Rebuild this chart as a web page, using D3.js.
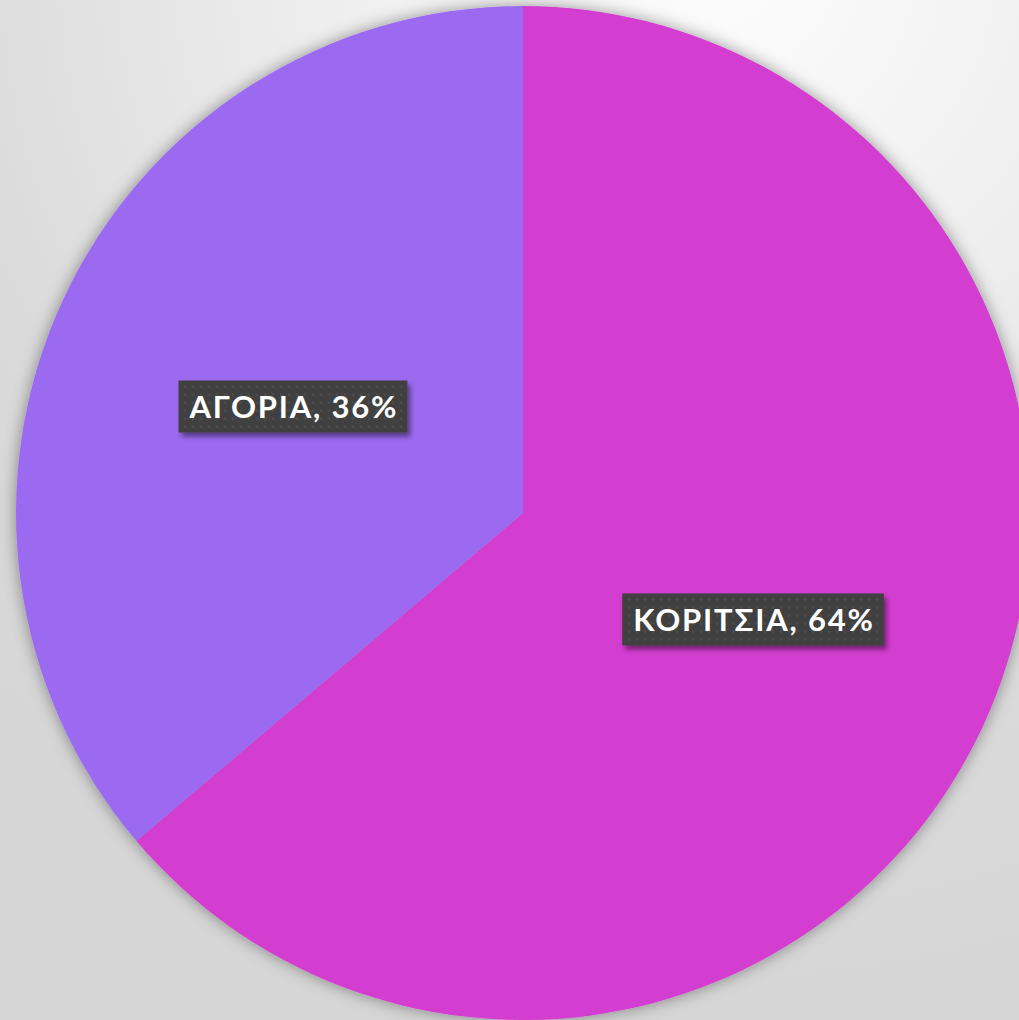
<!DOCTYPE html>
<html>
<head>
<meta charset="utf-8">
<script src="https://cdn.jsdelivr.net/npm/d3@7"></script>
<style>
  html, body { margin: 0; padding: 0; overflow: hidden; }
  svg { display: block; }
</style>
</head>
<body>
<svg width="1019" height="1020"></svg>
<script>
// data
const categories = ['ΚΟΡΙΤΣΙΑ', 'ΑΓΟΡΙΑ'];
const shares = [63.8, 36.2];
const colors = ['#d33dd0', '#9b6bf0'];

const width = 1019, height = 1020;
const cx = 523, cy = 513, radius = 507;

const svg = d3.select('svg');
const defs = svg.append('defs');

// background gradient
const bg = defs.append('radialGradient')
  .attr('id', 'bg')
  .attr('gradientUnits', 'userSpaceOnUse')
  .attr('cx', 720).attr('cy', -40).attr('r', 1050);
bg.append('stop').attr('offset', '0%').attr('stop-color', '#fdfdfd');
bg.append('stop').attr('offset', '40%').attr('stop-color', '#ededed');
bg.append('stop').attr('offset', '75%').attr('stop-color', '#dadada');
bg.append('stop').attr('offset', '100%').attr('stop-color', '#d6d6d6');

svg.append('rect')
  .attr('width', width).attr('height', height)
  .attr('fill', 'url(#bg)');

// soft shadow round the pie
const pieShadow = defs.append('filter').attr('id', 'pieShadow')
  .attr('x', '-20%').attr('y', '-20%').attr('width', '140%').attr('height', '140%');
pieShadow.append('feDropShadow')
  .attr('dx', 0).attr('dy', 0).attr('stdDeviation', 8)
  .attr('flood-color', '#000').attr('flood-opacity', 0.4);

// label box shadow
const boxShadow = defs.append('filter').attr('id', 'boxShadow')
  .attr('x', '-20%').attr('y', '-30%').attr('width', '140%').attr('height', '170%');
boxShadow.append('feDropShadow')
  .attr('dx', 3).attr('dy', 4).attr('stdDeviation', 2.5)
  .attr('flood-color', '#000').attr('flood-opacity', 0.45);

// dotted texture for label boxes
const pat = defs.append('pattern').attr('id', 'dots')
  .attr('patternUnits', 'userSpaceOnUse').attr('width', 8).attr('height', 8);
pat.append('rect').attr('width', 8).attr('height', 8).attr('fill', '#3f3f3f');
pat.append('circle').attr('cx', 4).attr('cy', 4).attr('r', 1.6).attr('fill', '#4b4b4b');

const pie = d3.pie().sort(null).value(d => d);
const arcs = pie(shares);
const arc = d3.arc().innerRadius(0).outerRadius(radius);

const g = svg.append('g').attr('transform', `translate(${cx},${cy})`);

g.append('g').attr('filter', 'url(#pieShadow)')
  .selectAll('path')
  .data(arcs)
  .enter()
  .append('path')
    .attr('d', arc)
    .attr('fill', (d, i) => colors[i]);

const total = d3.sum(shares);
const labels = g.selectAll('g.lbl')
  .data(arcs)
  .enter()
  .append('g')
    .attr('class', 'lbl')
    .attr('transform', d => `translate(${arc.centroid(d)})`);

const txt = labels.append('text')
  .attr('dy', '0.36em')
  .attr('fill', '#ffffff')
  .style('font-family', 'Lato, "DejaVu Sans", sans-serif')
  .style('font-weight', 'bold')
  .style('font-size', '31px')
  .style('letter-spacing', '1.8px')
  .text((d, i) => `${categories[i]}, ${Math.round(d.value / total * 100)}%`);

// centre text and put the box behind it
txt.each(function() {
  const w = this.getComputedTextLength() - 1.8;
  d3.select(this).attr('x', -w / 2);
  d3.select(this.parentNode).insert('rect', 'text')
    .attr('x', -w / 2 - 11).attr('y', -26)
    .attr('width', w + 22).attr('height', 52)
    .attr('fill', 'url(#dots)')
    .attr('filter', 'url(#boxShadow)');
});
</script>
</body>
</html>
